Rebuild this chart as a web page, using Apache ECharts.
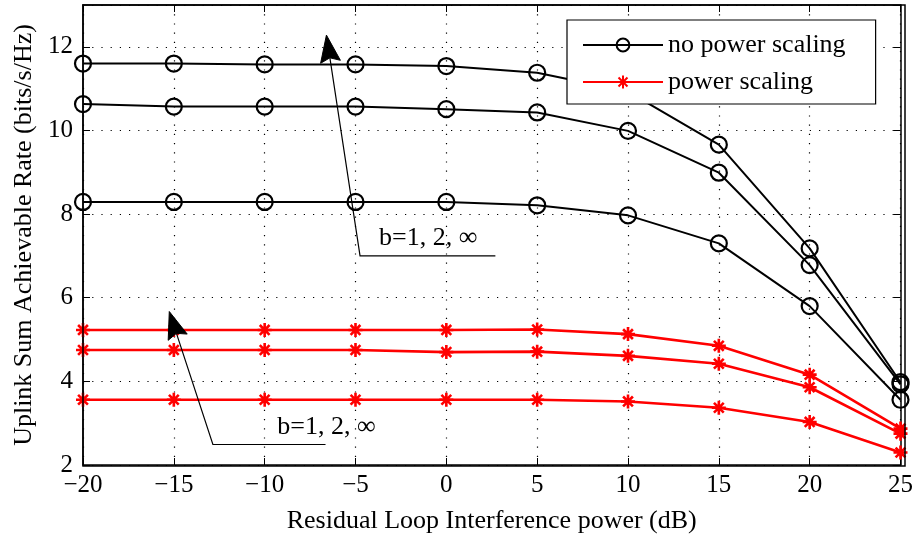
<!DOCTYPE html>
<html>
<head>
<meta charset="utf-8">
<script src="https://cdn.jsdelivr.net/npm/echarts@6/dist/echarts.min.js"></script>
<style>
  html, body { margin: 0; padding: 0; background: #fff; }
  #main { width: 916px; height: 539px; }
</style>
</head>
<body>
<div id="main"></div>
<script>
  // x axis values (dB)
  var powerDb = [-20, -15, -10, -5, 0, 5, 10, 15, 20, 25];

  // no power scaling, three curves (top to bottom)
  var noScaleA = [11.60, 11.60, 11.58, 11.58, 11.54, 11.38, 10.93, 9.66, 7.18, 3.98];
  var noScaleB = [10.63, 10.57, 10.57, 10.57, 10.51, 10.43, 9.99, 8.99, 6.78, 3.93];
  var noScaleC = [8.29, 8.29, 8.29, 8.29, 8.29, 8.21, 7.97, 7.30, 5.80, 3.56];

  // power scaling, three curves (top to bottom)
  var scaleA = [5.23, 5.23, 5.23, 5.23, 5.23, 5.24, 5.13, 4.85, 4.16, 2.87];
  var scaleB = [4.75, 4.75, 4.75, 4.75, 4.70, 4.71, 4.61, 4.42, 3.86, 2.75];
  var scaleC = [3.56, 3.56, 3.56, 3.56, 3.56, 3.56, 3.52, 3.37, 3.03, 2.30];

  var annotText = 'b=1, 2, \u221e';

  var font = 'Liberation Serif, Times New Roman, serif';
  var starPath = 'path://M0,-10L0,10M-10,0L10,0M-7,-7L7,7M-7,7L7,-7';

  function pairs(ys) {
    return powerDb.map(function (x, i) { return [x, ys[i]]; });
  }

  function blackSeries(ys) {
    return {
      name: 'no power scaling',
      type: 'line',
      data: pairs(ys),
      symbol: 'circle',
      symbolSize: 16,
      lineStyle: { color: '#000', width: 2 },
      itemStyle: { color: 'rgba(0,0,0,0)', borderColor: '#000', borderWidth: 2.2 },
      emphasis: { disabled: true },
      z: 3
    };
  }

  function redSeries(ys) {
    return {
      name: 'power scaling',
      type: 'line',
      data: pairs(ys),
      symbol: starPath,
      symbolSize: 14,
      lineStyle: { color: '#ff0000', width: 2.6 },
      itemStyle: { color: 'rgba(0,0,0,0)', borderColor: '#ff0000', borderWidth: 2.6 },
      emphasis: { disabled: true },
      z: 3
    };
  }

  var minusFmt = function (v) { return String(v).replace('-', '\u2212'); };

  var axisLine = { show: true, onZero: false, lineStyle: { color: '#000', width: 1.5 } };
  var axisTick = { show: true, inside: true, length: 7, lineStyle: { color: '#000', width: 1 } };
  var gridLine = { show: true, lineStyle: { color: '#000', width: 1.2, type: [1.2, 8] } };

  var chart = echarts.init(document.getElementById('main'));
  chart.setOption({
    animation: false,
    backgroundColor: '#fff',
    grid: { left: 83, right: 11, top: 5, bottom: 73, show: false },
    legend: {
      orient: 'vertical',
      left: 567,
      top: 20,
      data: ['no power scaling', 'power scaling'],
      backgroundColor: '#fff',
      borderColor: '#000',
      borderWidth: 1.2,
      borderRadius: 0,
      padding: [12, 30, 9, 15],
      itemGap: 11,
      itemWidth: 80,
      itemHeight: 16,
      textStyle: { fontFamily: font, fontSize: 26, color: '#000' }
    },
    xAxis: [{
      type: 'value', min: -20, max: 25, interval: 5,
      name: 'Residual Loop Interference power (dB)',
      nameLocation: 'middle', nameGap: 43,
      nameTextStyle: { fontFamily: font, fontSize: 26, color: '#000' },
      axisLine: axisLine, axisTick: axisTick,
      axisLabel: { fontFamily: font, fontSize: 25, color: '#000', margin: 8, formatter: minusFmt },
      splitLine: gridLine
    }, {
      type: 'value', min: -20, max: 25, interval: 5, position: 'top',
      axisLine: axisLine, axisTick: axisTick,
      axisLabel: { show: false }, splitLine: { show: false }
    }],
    yAxis: [{
      type: 'value', min: 2, max: 13, interval: 2,
      name: 'Uplink Sum Achievable Rate (bits/s/Hz)',
      nameLocation: 'middle', nameGap: 46,
      nameTextStyle: { fontFamily: font, fontSize: 26, color: '#000' },
      axisLine: axisLine, axisTick: axisTick,
      axisLabel: { fontFamily: font, fontSize: 25, color: '#000', margin: 10, showMaxLabel: false },
      splitLine: gridLine
    }, {
      type: 'value', min: 2, max: 13, interval: 2, position: 'right',
      axisLine: axisLine, axisTick: axisTick,
      axisLabel: { show: false }, splitLine: { show: false }
    }],
    series: [
      blackSeries(noScaleA), blackSeries(noScaleB), blackSeries(noScaleC),
      redSeries(scaleA), redSeries(scaleB), redSeries(scaleC)
    ]
  });

  // annotations: arrow tip, tail corner, end of underline, text centre (data space)
  var notes = [
    { tip: [-6.6, 12.28], tail: [-4.75, 7.0], end: [2.7, 7.0], text: [-1.0, 7.42] },
    { tip: [-15.25, 5.67], tail: [-12.85, 2.49], end: [-6.65, 2.49], text: [-6.6, 2.9] }
  ];

  function px(p) { return chart.convertToPixel({ gridIndex: 0 }, p); }

  var graphics = [];
  notes.forEach(function (n) {
    var tip = px(n.tip), tail = px(n.tail), end = px(n.end), tc = px(n.text);
    var dx = tip[0] - tail[0], dy = tip[1] - tail[1];
    var len = Math.sqrt(dx * dx + dy * dy);
    var ux = dx / len, uy = dy / len;
    var L = 27, W = 10;
    var bx = tip[0] - ux * L, by = tip[1] - uy * L;
    graphics.push({
      type: 'polyline',
      shape: { points: [[bx + ux * 4, by + uy * 4], tail, end] },
      style: { stroke: '#000', lineWidth: 1.2, fill: null },
      z: 10
    });
    graphics.push({
      type: 'polygon',
      shape: { points: [
        tip,
        [bx - uy * W, by + ux * W],
        [tip[0] - ux * L * 0.85, tip[1] - uy * L * 0.85],
        [bx + uy * W, by - ux * W]
      ] },
      style: { fill: '#000', stroke: '#000', lineWidth: 1 },
      z: 10
    });
    graphics.push({
      type: 'text',
      x: tc[0], y: tc[1],
      style: { text: annotText, fontFamily: font, fontSize: 26, fill: '#000',
               align: 'center', verticalAlign: 'middle' },
      z: 10
    });
  });

  // full frame box
  graphics.push({
    type: 'rect',
    shape: { x: 83, y: 5, width: 916 - 83 - 11, height: 539 - 73 - 5 },
    style: { fill: null, stroke: '#000', lineWidth: 1.5 },
    z: 9, silent: true
  });

  chart.setOption({ graphic: graphics });
</script>
</body>
</html>
